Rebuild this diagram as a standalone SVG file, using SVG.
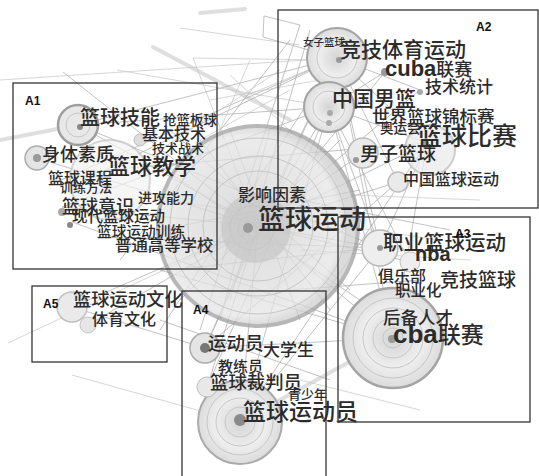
<svg xmlns="http://www.w3.org/2000/svg" width="539" height="476" viewBox="0 0 539 476">
<defs>
<style>
.e{stroke:#a8a8a8;stroke-width:1;fill:none;opacity:.7}
.ef{stroke:#c4c4c4;stroke-width:1;fill:none;opacity:.7}
.et{stroke:#d2d2d2;stroke-width:4;fill:none;opacity:.7;stroke-linecap:round}
.ring{fill:none;stroke:#c6c6c6;stroke-width:1}
.core{fill:#9a9a9a}
.box{fill:none;stroke:#333;stroke-width:1.3}
.lab{font-family:"Liberation Sans",Arial,sans-serif;font-weight:bold;font-size:12px;fill:#111}
.t{font-family:"Noto Sans CJK SC","Noto Sans",sans-serif;font-weight:500;fill:#2b2b2b}
.s{font-family:"Liberation Sans",Arial,sans-serif;font-weight:bold;fill:#2b2b2b}
</style>
<radialGradient id="gBig" cx="0.45" cy="0.5" r="0.5">
<stop offset="0" stop-color="#c4c4c4"/>
<stop offset="0.35" stop-color="#d8d8d8"/>
<stop offset="0.9" stop-color="#e6e6e6"/>
<stop offset="1" stop-color="#cfcfcf"/>
</radialGradient>
<radialGradient id="gDisc" cx="0.5" cy="0.5" r="0.5">
<stop offset="0" stop-color="#d4d4d4"/>
<stop offset="0.6" stop-color="#eeeeee"/>
<stop offset="1" stop-color="#dcdcdc"/>
</radialGradient>
</defs>
<rect width="539" height="476" fill="#fff"/>

<g id="connectors">
<line class="et" x1="153" y1="47" x2="290" y2="120"/>
<line class="et" x1="200" y1="13" x2="245" y2="9"/>
<line class="ef" x1="180" y1="28" x2="300" y2="45"/>
<line class="ef" x1="193" y1="58" x2="320" y2="60"/>
<line class="e" x1="63" y1="72" x2="258" y2="226"/>
<line class="e" x1="264" y1="16" x2="263" y2="37"/>
<line class="e" x1="264" y1="16" x2="300" y2="25"/>
<line class="e" x1="263" y1="37" x2="337" y2="58"/>
<line class="ef" x1="243" y1="97" x2="337" y2="58"/>
<line class="ef" x1="193" y1="58" x2="258" y2="226"/>
<line class="ef" x1="117" y1="70" x2="329" y2="107"/>
<line class="et" x1="0" y1="140" x2="78" y2="125"/>
<line class="ef" x1="0" y1="80" x2="337" y2="58"/>
<line class="e" x1="78" y1="125" x2="337" y2="58"/>
<line class="e" x1="78" y1="125" x2="258" y2="226"/>
<line class="e" x1="78" y1="125" x2="329" y2="107"/>
<line class="e" x1="37" y1="158" x2="258" y2="226"/>
<line class="e" x1="105" y1="170" x2="337" y2="58"/>
<line class="e" x1="105" y1="170" x2="427" y2="143"/>
<line class="e" x1="62" y1="207" x2="258" y2="226"/>
<line class="e" x1="62" y1="207" x2="329" y2="107"/>
<line class="e" x1="72" y1="222" x2="393" y2="338"/>
<line class="e" x1="97" y1="237" x2="380" y2="248"/>
<line class="e" x1="50" y1="185" x2="337" y2="58"/>
<line class="ef" x1="8" y1="343" x2="258" y2="226"/>
<line class="ef" x1="72" y1="375" x2="240" y2="422"/>
<line class="e" x1="72" y1="307" x2="258" y2="226"/>
<line class="e" x1="72" y1="307" x2="205" y2="348"/>
<line class="e" x1="88" y1="325" x2="258" y2="226"/>
<line class="e" x1="205" y1="348" x2="258" y2="226"/>
<line class="e" x1="205" y1="348" x2="337" y2="58"/>
<line class="e" x1="205" y1="348" x2="393" y2="338"/>
<line class="e" x1="240" y1="422" x2="258" y2="226"/>
<line class="e" x1="240" y1="422" x2="329" y2="107"/>
<line class="e" x1="240" y1="422" x2="380" y2="248"/>
<line class="e" x1="240" y1="422" x2="427" y2="143"/>
<line class="e" x1="207" y1="387" x2="329" y2="107"/>
<line class="e" x1="207" y1="387" x2="258" y2="226"/>
<line class="et" x1="240" y1="422" x2="393" y2="338"/>
<line class="e" x1="393" y1="338" x2="258" y2="226"/>
<line class="e" x1="393" y1="338" x2="329" y2="107"/>
<line class="e" x1="393" y1="338" x2="427" y2="143"/>
<line class="e" x1="393" y1="338" x2="337" y2="58"/>
<line class="e" x1="393" y1="338" x2="160" y2="270"/>
<line class="e" x1="380" y1="248" x2="258" y2="226"/>
<line class="e" x1="380" y1="248" x2="329" y2="107"/>
<line class="e" x1="380" y1="248" x2="427" y2="143"/>
<line class="e" x1="380" y1="248" x2="337" y2="58"/>
<line class="e" x1="380" y1="248" x2="78" y2="125"/>
<line class="e" x1="410" y1="262" x2="258" y2="226"/>
<line class="e" x1="410" y1="262" x2="329" y2="107"/>
<line class="e" x1="427" y1="143" x2="258" y2="226"/>
<line class="e" x1="427" y1="143" x2="337" y2="58"/>
<line class="e" x1="427" y1="143" x2="329" y2="107"/>
<line class="e" x1="363" y1="153" x2="258" y2="226"/>
<line class="e" x1="398" y1="182" x2="258" y2="226"/>
<line class="e" x1="398" y1="182" x2="337" y2="58"/>
<line class="e" x1="398" y1="182" x2="205" y2="348"/>
<line class="e" x1="385" y1="72" x2="258" y2="226"/>
<line class="e" x1="385" y1="72" x2="329" y2="107"/>
<line class="e" x1="420" y1="90" x2="337" y2="58"/>
<line class="e" x1="420" y1="90" x2="258" y2="226"/>
<line class="e" x1="329" y1="107" x2="258" y2="226"/>
<line class="e" x1="337" y1="58" x2="258" y2="226"/>
<line class="e" x1="337" y1="58" x2="329" y2="107"/>
<line class="e" x1="337" y1="58" x2="160" y2="330"/>
<line class="e" x1="300" y1="25" x2="200" y2="330"/>
<line class="e" x1="290" y1="40" x2="120" y2="260"/>
<line class="e" x1="310" y1="30" x2="230" y2="300"/>
<line class="ef" x1="280" y1="70" x2="160" y2="150"/>
<line class="ef" x1="290" y1="90" x2="200" y2="140"/>
<line class="ef" x1="230" y1="75" x2="300" y2="140"/>
<line class="ef" x1="210" y1="100" x2="320" y2="80"/>
<line class="ef" x1="250" y1="60" x2="220" y2="130"/>
<line class="e" x1="150" y1="160" x2="360" y2="300"/>
<line class="e" x1="170" y1="130" x2="350" y2="290"/>
<line class="e" x1="180" y1="300" x2="340" y2="140"/>
<line class="e" x1="200" y1="140" x2="330" y2="310"/>
<line class="e" x1="160" y1="230" x2="360" y2="190"/>
<line class="e" x1="170" y1="270" x2="355" y2="250"/>
<line class="e" x1="230" y1="130" x2="300" y2="320"/>
<line class="e" x1="270" y1="128" x2="220" y2="320"/>
<line class="ef" x1="165" y1="200" x2="440" y2="240"/>
<line class="ef" x1="300" y1="250" x2="470" y2="260"/>
<line class="ef" x1="350" y1="195" x2="480" y2="200"/>
<line class="e" x1="450" y1="230" x2="300" y2="200"/>
<line class="e" x1="290" y1="290" x2="420" y2="280"/>
<line class="e" x1="160" y1="320" x2="330" y2="380"/>
<line class="ef" x1="300" y1="380" x2="420" y2="410"/>
</g>

<g id="n-lanqiuyundong">
<circle cx="258" cy="226" r="100" fill="url(#gBig)" stroke="#a0a0a0" stroke-width="4" opacity="0.75"/>
<circle class="ring" cx="258" cy="226" r="88"/>
<circle class="ring" cx="258" cy="226" r="70"/>
<circle class="ring" cx="258" cy="226" r="55"/>
<circle cx="256" cy="228" r="35" fill="#c8c8c8" opacity="0.75"/>
<circle class="ring" cx="252" cy="228" r="22"/>
<circle class="ring" cx="250" cy="228" r="12"/>
<circle class="core" cx="248" cy="228" r="5"/>
<text class="t" x="238" y="201" font-size="17">影响因素</text>
<text class="t" x="258" y="229" font-size="27">篮球运动</text>
</g>

<g id="n-cba">
<circle cx="393" cy="338" r="50" fill="url(#gDisc)" stroke="#a4a4a4" stroke-width="2.5"/>
<circle class="ring" cx="393" cy="338" r="40"/>
<circle class="ring" cx="393" cy="338" r="30"/>
<circle class="ring" cx="393" cy="338" r="20"/>
<circle class="ring" cx="393" cy="338" r="10"/>
<circle class="core" cx="392" cy="339" r="4"/>
<text class="t" x="383" y="324" font-size="17.5">后备人才</text>
<text x="393" y="343"><tspan class="s" font-size="26">cba</tspan><tspan class="t" font-size="23">联赛</tspan></text>
</g>

<g id="n-yundongyuan2">
<circle cx="240" cy="422" r="42" fill="url(#gDisc)" stroke="#aaaaaa" stroke-width="2"/>
<circle class="ring" cx="240" cy="422" r="33"/>
<circle class="ring" cx="240" cy="422" r="24"/>
<circle class="ring" cx="240" cy="422" r="15"/>
<circle cx="240" cy="420" r="6" fill="#8a8a8a"/>
<text class="t" x="243" y="420" font-size="23">篮球运动员</text>
</g>

<g id="n-jingji">
<circle cx="337" cy="58" r="30" fill="url(#gDisc)" stroke="#a4a4a4" stroke-width="2"/>
<circle class="ring" cx="337" cy="58" r="20"/>
<circle cx="339" cy="60" r="3" fill="#999"/>
<text class="t" x="303" y="46" font-size="10.5">女子篮球</text>
<text class="t" x="340" y="57" font-size="21">竞技体育运动</text>
</g>

<g id="n-nanlan">
<circle cx="329" cy="107" r="25" fill="url(#gDisc)" stroke="#a4a4a4" stroke-width="2"/>
<circle class="ring" cx="329" cy="107" r="16"/>
<circle cx="330" cy="113" r="3" fill="#aaa"/>
<circle cx="329" cy="123" r="3" fill="#aaa"/>
<text class="t" x="332" y="106" font-size="21">中国男篮</text>
</g>

<g id="n-cuba">
<circle cx="385" cy="72" r="4" fill="#999"/>
<text x="385" y="76"><tspan class="s" font-size="22">cuba</tspan><tspan class="t" font-size="18">联赛</tspan></text>
</g>

<g id="n-tongji">
<circle cx="420" cy="92" r="3" fill="#aaa"/>
<text class="t" x="425" y="93" font-size="17">技术统计</text>
</g>

<g id="n-bisai">
<circle cx="430" cy="150" r="25" fill="#ededed" stroke="#c2c2c2" stroke-width="2" opacity="0.8"/>
<circle cx="425" cy="144" r="4" fill="#999"/>
<text class="t" x="372" y="123" font-size="17.5">世界篮球锦标赛</text>
<text class="t" x="380" y="133" font-size="13.5">奥运会</text>
<text class="t" x="417" y="145" font-size="25">篮球比赛</text>
</g>

<g id="n-nanzi">
<circle cx="363" cy="153" r="15" fill="#eaeaea" stroke="#bcbcbc" stroke-width="1.5"/>
<circle cx="398" cy="182" r="10" fill="#eaeaea" stroke="#bcbcbc" stroke-width="1.5"/>
<circle cx="356" cy="160" r="3" fill="#999"/>
<text class="t" x="360" y="161" font-size="19">男子篮球</text>
<text class="t" x="403" y="185" font-size="16">中国篮球运动</text>
</g>

<g id="n-zhiye">
<circle cx="380" cy="248" r="18" fill="#eeeeee" stroke="#b8b8b8" stroke-width="1.5"/>
<circle cx="410" cy="262" r="10" fill="#eeeeee" stroke="#c0c0c0" stroke-width="1"/>
<circle cx="380" cy="248" r="3" fill="#999"/>
<text class="t" x="383" y="250" font-size="20.5">职业篮球运动</text>
<text class="s" x="415" y="261" font-size="20">nba</text>
<text class="t" x="378" y="282" font-size="16">俱乐部</text>
<text class="t" x="440" y="287" font-size="19">竞技篮球</text>
<text class="t" x="395" y="296" font-size="15.5">职业化</text>
</g>

<g id="n-jineng">
<circle cx="78" cy="125" r="20" fill="#e8e8e8" stroke="#9e9e9e" stroke-width="2.5"/>
<circle class="ring" cx="78" cy="125" r="12"/>
<circle cx="80" cy="127" r="3" fill="#888"/>
<circle cx="140" cy="140" r="6" fill="#ddd" stroke="#bbb"/>
<text class="t" x="80" y="125" font-size="20">篮球技能</text>
<text class="t" x="163" y="125" font-size="13.5">抢篮板球</text>
<text class="t" x="142" y="140" font-size="16">基本技术</text>
<text class="t" x="152" y="153" font-size="13">技术战术</text>
</g>

<g id="n-jiaoxue">
<circle cx="110" cy="180" r="40" fill="#f3f3f3" stroke="#c4c4c4" stroke-width="2" opacity="0.7"/>
<circle cx="37" cy="158" r="12" fill="#e4e4e4" stroke="#ababab" stroke-width="1.5"/>
<circle cx="37" cy="158" r="4" fill="#999"/>
<text class="t" x="42" y="161" font-size="18">身体素质</text>
<text class="t" x="108" y="174" font-size="22">篮球教学</text>
<text class="t" x="48" y="184" font-size="16">篮球课程</text>
<text class="t" x="60" y="192" font-size="13">训练方法</text>
<text class="t" x="138" y="203" font-size="14">进攻能力</text>
<circle cx="62" cy="212" r="4" fill="#aaa"/>
<circle cx="70" cy="225" r="3" fill="#888"/>
<text class="t" x="62" y="213" font-size="18">篮球意识</text>
<text class="t" x="72" y="222" font-size="15.5">现代篮球运动</text>
<text class="t" x="97" y="237" font-size="14.7">篮球运动训练</text>
<text class="t" x="115" y="251" font-size="16.4">普通高等学校</text>
</g>

<g id="n-wenhua">
<circle cx="72" cy="307" r="15" fill="#eaeaea" stroke="#c0c0c0" stroke-width="1.5"/>
<circle cx="88" cy="325" r="8" fill="#e6e6e6" stroke="#c4c4c4" stroke-width="1"/>
<text class="t" x="73" y="306" font-size="18.3">篮球运动文化</text>
<text class="t" x="92" y="325" font-size="16">体育文化</text>
</g>

<g id="n-yundongyuan">
<circle cx="205" cy="348" r="15" fill="#e4e4e4" stroke="#ababab" stroke-width="1.5"/>
<circle cx="205" cy="348" r="5" fill="#777"/>
<circle cx="207" cy="387" r="10" fill="#e8e8e8" stroke="#bcbcbc" stroke-width="1"/>
<text class="t" x="208" y="350" font-size="18.5">运动员</text>
<text class="t" x="263" y="356" font-size="17">大学生</text>
<text class="t" x="218" y="372" font-size="15">教练员</text>
<text class="t" x="210" y="389" font-size="18.4">篮球裁判员</text>
<text class="t" x="288" y="399" font-size="13">青少年</text>
</g>

<g id="boxes">
<rect class="box" x="13" y="83" width="204" height="186"/>
<rect class="box" x="278" y="10" width="260" height="198"/>
<rect class="box" x="338" y="217" width="192" height="205"/>
<rect class="box" x="182" y="291" width="144" height="190"/>
<rect class="box" x="32" y="286" width="135" height="76"/>
<text class="lab" x="25" y="105">A1</text>
<text class="lab" x="476" y="31">A2</text>
<text class="lab" x="455" y="238">A3</text>
<text class="lab" x="193" y="314">A4</text>
<text class="lab" x="43" y="308">A5</text>
</g>
</svg>
